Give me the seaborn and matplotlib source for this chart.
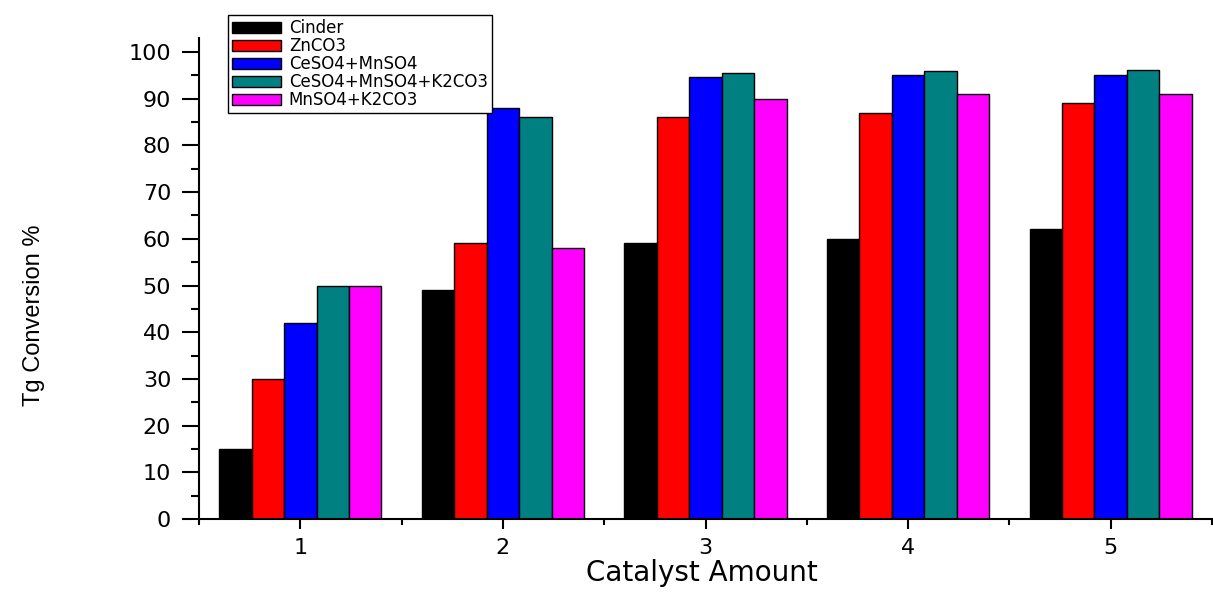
import pandas as pd
import matplotlib.pyplot as plt
import seaborn as sns
from matplotlib.ticker import MultipleLocator

# Tg conversion (%), one list per catalyst
amounts = ["1", "2", "3", "4", "5"]
catalysts = ["Cinder", "ZnCO3", "CeSO4+MnSO4", "CeSO4+MnSO4+K2CO3", "MnSO4+K2CO3"]
cinder = [15, 49, 59, 60, 62]
znco3 = [30, 59, 86, 87, 89]
ceso4_mnso4 = [42, 88, 94.7, 95, 95]
ceso4_mnso4_k2co3 = [50, 86, 95.5, 96, 96.2]
mnso4_k2co3 = [50, 58, 90, 91, 91]
colors = ["#000000", "#ff0000", "#0000ff", "#008080", "#ff00ff"]

series = [cinder, znco3, ceso4_mnso4, ceso4_mnso4_k2co3, mnso4_k2co3]
df = pd.DataFrame(
    [(a, c, v) for c, vals in zip(catalysts, series) for a, v in zip(amounts, vals)],
    columns=["amount", "catalyst", "conversion"],
)

sns.set_style("ticks")
plt.rcParams["font.family"] = ["DejaVu Sans"]
for key in ["text.color", "axes.labelcolor", "xtick.color", "ytick.color", "axes.edgecolor"]:
    plt.rcParams[key] = "black"

fig, ax = plt.subplots(figsize=(12.13, 5.92), dpi=100)
fig.subplots_adjust(left=199 / 1213, right=1212 / 1213, bottom=1 - 519 / 592, top=1 - 38 / 592)

sns.barplot(data=df, x="amount", y="conversion", hue="catalyst",
            order=amounts, hue_order=catalysts, palette=colors,
            saturation=1, width=0.8, edgecolor="black", linewidth=1,
            errorbar=None, ax=ax)

ax.set_xlim(-0.5, 4.5)
ax.set_ylim(0, 103)
ax.set_yticks(range(0, 101, 10))
ax.yaxis.set_minor_locator(MultipleLocator(5))
ax.set_xticks([i + 0.5 for i in range(-1, 5)], minor=True)

for side in ["top", "right"]:
    ax.spines[side].set_visible(False)
for side in ["left", "bottom"]:
    ax.spines[side].set_linewidth(1.5)

ax.tick_params(axis="y", which="major", length=12, width=1.5, pad=8, labelsize=16)
ax.tick_params(axis="y", which="minor", length=6, width=1.5)
ax.tick_params(axis="x", which="major", length=7, width=1.5, pad=7, labelsize=16)
ax.tick_params(axis="x", which="minor", length=4, width=1.5)

ax.set_xlabel("Catalyst Amount", fontsize=20)
ax.xaxis.set_label_coords(0.496, -0.084)
ax.set_ylabel("Tg Conversion %", fontsize=17, family=["Liberation Sans"])
ax.yaxis.set_label_coords(-0.152, 0.424)

sns.move_legend(ax, loc="upper left", bbox_to_anchor=(228 / 1213, 1 - 15 / 592),
                bbox_transform=fig.transFigure, borderaxespad=0, title=None,
                fontsize=12, labelspacing=0, handlelength=2.9, handleheight=0.7,
                handletextpad=0.5, borderpad=0.25, fancybox=False, framealpha=1,
                edgecolor="black")
ax.get_legend().get_frame().set_linewidth(1)

plt.savefig("out.png", dpi=100)
